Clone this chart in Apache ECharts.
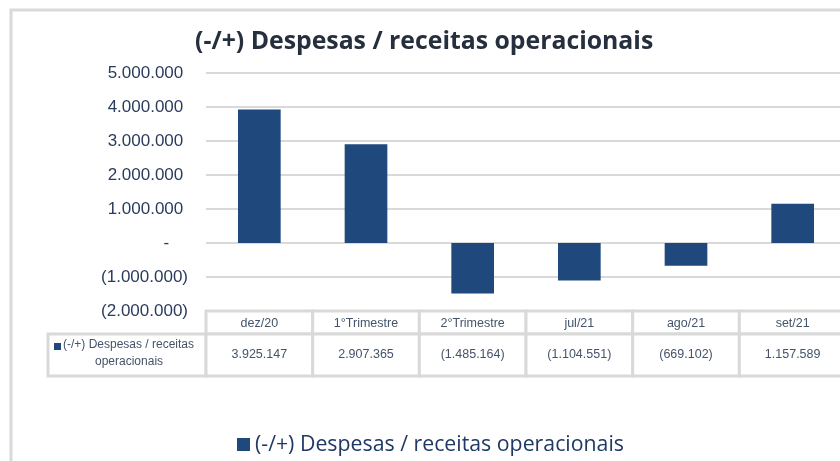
<!DOCTYPE html>
<html>
<head>
<meta charset="utf-8">
<script src="https://cdn.jsdelivr.net/npm/echarts@6/dist/echarts.min.js"></script>
<style>
  html, body { margin: 0; padding: 0; background: #fff; }
  #chart { width: 840px; height: 461px; }
</style>
</head>
<body>
<div id="chart"></div>
<script>
const seriesName = '(-/+) Despesas / receitas operacionais'
const categories = ['dez/20', '1°Trimestre', '2°Trimestre', 'jul/21', 'ago/21', 'set/21']
const values = [3925147, 2907365, -1485164, -1104551, -669102, 1157589]

const navy = '#1f497d'
const gridGray = '#d9d9d9'
const labelColor = '#2a3b5e'
const tableText = '#44546a'

function fmtNumber(v) {
  const s = Math.abs(Math.round(v)).toString().replace(/\B(?=(\d{3})+(?!\d))/g, '.')
  return v < 0 ? '(' + s + ')' : s
}

function fmtAxis(v) {
  if (v === 0) return '-    '
  return v < 0 ? fmtNumber(v) : fmtNumber(v) + ' '
}

const chart = echarts.init(document.getElementById('chart'))
const headH = 23

chart.setOption({
  animation: false,
  title: {
    text: seriesName,
    left: 190,
    top: 24,
    textStyle: { fontFamily: 'Open Sans', fontWeight: 'bold', fontSize: 24.8, color: '#262f3d' }
  },
  legend: {
    data: [seriesName],
    left: 237,
    top: 434,
    padding: 0,
    itemWidth: 13,
    itemHeight: 13,
    itemGap: 6,
    icon: 'rect',
    textStyle: { fontFamily: 'Open Sans', fontSize: 21.3, color: '#1f3864' }
  },
  grid: [
    { left: 206, top: 73, width: 640, height: 238, outerBoundsMode: 'none' },
    { left: 206, top: 311, width: 640, height: 65, outerBoundsMode: 'none' }
  ],
  xAxis: [
    {
      type: 'category', gridIndex: 0, data: categories,
      axisLine: { show: false }, axisTick: { show: false }, axisLabel: { show: false }
    },
    {
      type: 'category', gridIndex: 1, data: categories,
      axisLine: { show: false }, axisTick: { show: false }, axisLabel: { show: false }
    }
  ],
  yAxis: [
    {
      type: 'value', gridIndex: 0, min: -2000000, max: 5000000, interval: 1000000,
      axisLine: { show: false }, axisTick: { show: false },
      splitLine: { lineStyle: { color: gridGray, width: 2 } },
      axisLabel: {
        margin: 18, formatter: fmtAxis,
        fontFamily: 'Liberation Sans', fontSize: 17, color: labelColor
      }
    },
    { type: 'value', gridIndex: 1, min: 0, max: 1, show: false }
  ],
  graphic: [
    {
      type: 'rect', z: -10,
      shape: { x: 11, y: 10, width: 900, height: 500 },
      style: { fill: '#fff', stroke: gridGray, lineWidth: 3 }
    },
    {
      type: 'rect',
      shape: { x: 48, y: 311 + headH, width: 158, height: 65 - headH },
      style: { fill: '#fff', stroke: gridGray, lineWidth: 3 }
    },
    {
      type: 'rect',
      shape: { x: 54, y: 343, width: 7, height: 7 },
      style: { fill: navy }
    },
    {
      type: 'text',
      style: {
        text: seriesName.replace(' operacionais', ''),
        fontFamily: 'Liberation Sans', fontSize: 12, fill: tableText
      },
      left: 63, top: 339
    },
    {
      type: 'text',
      style: {
        text: 'operacionais',
        fontFamily: 'Liberation Sans', fontSize: 12, fill: tableText
      },
      left: 95, top: 356
    }
  ],
  series: [
    {
      name: seriesName,
      type: 'bar',
      xAxisIndex: 0, yAxisIndex: 0,
      data: values,
      barWidth: '40%',
      itemStyle: { color: navy }
    },
    {
      type: 'custom',
      xAxisIndex: 1, yAxisIndex: 1,
      data: categories.map((c, i) => [i, 0]),
      renderItem: function (params, api) {
        const i = api.value(0)
        const cs = params.coordSys
        const cx = api.coord([i, 0])[0]
        const w = api.size([1, 0])[0]
        const x0 = cx - w / 2
        const cellStyle = { fill: '#fff', stroke: gridGray, lineWidth: 3 }
        const txt = { fontFamily: 'Liberation Sans', fontSize: 12.5, fill: tableText, align: 'center', verticalAlign: 'middle' }
        return {
          type: 'group',
          children: [
            { type: 'rect', shape: { x: x0, y: cs.y, width: w, height: headH }, style: cellStyle },
            { type: 'rect', shape: { x: x0, y: cs.y + headH, width: w, height: cs.height - headH }, style: cellStyle },
            { type: 'text', style: Object.assign({ text: categories[i], x: cx, y: cs.y + headH / 2 + 1 }, txt) },
            { type: 'text', style: Object.assign({ text: fmtNumber(values[i]), x: cx, y: cs.y + headH + (cs.height - headH) / 2 }, txt) }
          ]
        }
      }
    }
  ]
})
</script>
</body>
</html>
